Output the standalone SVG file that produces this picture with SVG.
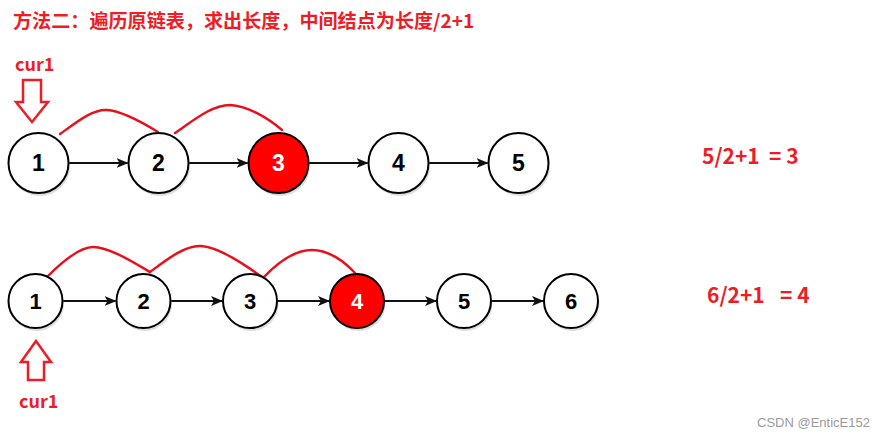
<svg xmlns="http://www.w3.org/2000/svg" width="893" height="436" viewBox="0 0 893 436">
<style>
.bg{fill:#ffffff}
.node{fill:#ffffff;stroke:#000000;stroke-width:2}
.hl{fill:#ff0000;stroke:#000000;stroke-width:2}
.shadow{fill:#bdbdbd;opacity:0.5}
.lbl{font-family:"Liberation Sans",Arial,sans-serif;font-weight:bold;text-anchor:middle;fill:#000000}
.lblw{fill:#ffffff}
.edge{stroke:#111111;stroke-width:2;fill:none}
.arc{stroke:#e8101a;stroke-width:2.4;fill:none;stroke-linejoin:round;stroke-linecap:round}
.ptr{fill:#ffffff;stroke:#ee1c25;stroke-width:2.5;stroke-linejoin:miter}
.red{font-family:"Noto Sans CJK SC","Microsoft YaHei",sans-serif;font-weight:bold;fill:#ee1c25}
.wm{font-family:"Liberation Sans",Arial,sans-serif;font-size:13px;fill:#9a9a9a}
</style>
<defs>
<marker id="ah" markerWidth="12" markerHeight="10" refX="11" refY="5" orient="auto" markerUnits="userSpaceOnUse">
<path d="M0,0 L12,5 L0,10 L3,5 Z" fill="#111111"/>
</marker>
</defs>
<rect class="bg" x="0" y="0" width="893" height="436"/>

<text class="red" x="13" y="28" font-size="19.1">方法二：遍历原链表，求出长度，中间结点为长度/2+1</text>

<g id="connectors">
<line class="edge" x1="68.5" y1="163" x2="127.5" y2="163" marker-end="url(#ah)"/>
<line class="edge" x1="188.5" y1="163" x2="247.5" y2="163" marker-end="url(#ah)"/>
<line class="edge" x1="308.5" y1="163" x2="367.5" y2="163" marker-end="url(#ah)"/>
<line class="edge" x1="428.5" y1="163" x2="487.5" y2="163" marker-end="url(#ah)"/>

<line class="edge" x1="62.5" y1="301" x2="115.5" y2="301" marker-end="url(#ah)"/>
<line class="edge" x1="170.5" y1="301" x2="222" y2="301" marker-end="url(#ah)"/>
<line class="edge" x1="277" y1="301" x2="329" y2="301" marker-end="url(#ah)"/>
<line class="edge" x1="384" y1="301" x2="436" y2="301" marker-end="url(#ah)"/>
<line class="edge" x1="491" y1="301" x2="543" y2="301" marker-end="url(#ah)"/>

<path class="arc" d="M60,134 C78,121 93,109 107,110 C122,111 145,124 158,132"/>
<path class="arc" d="M175,133 C194,120 212,105 230,105 C248,106 268,118 282,130"/>

<path class="arc" d="M48,276 C62,262 79,247 93,247 C109,247 133,262 150,272"/>
<path class="arc" d="M150,272 C166,260 185,245 201,246 C219,247 245,265 262,277"/>
<path class="arc" d="M263,278 C278,262 296,250 312,250 C329,250 345,262 355,273"/>
</g>

<g id="top-nodes">
<g id="t1"><circle class="shadow" cx="40" cy="166" r="30"/><circle class="node" cx="38.5" cy="163" r="30"/><text class="lbl" x="38.5" y="171" font-size="23">1</text></g>
<g id="t2"><circle class="shadow" cx="160" cy="166" r="30"/><circle class="node" cx="158.5" cy="163" r="30"/><text class="lbl" x="158.5" y="171" font-size="23">2</text></g>
<g id="t3"><circle class="shadow" cx="280" cy="166" r="30"/><circle class="hl" cx="278.5" cy="163" r="30"/><text class="lbl lblw" x="278.5" y="171" font-size="23">3</text></g>
<g id="t4"><circle class="shadow" cx="400" cy="166" r="30"/><circle class="node" cx="398.5" cy="163" r="30"/><text class="lbl" x="398.5" y="171" font-size="23">4</text></g>
<g id="t5"><circle class="shadow" cx="520" cy="166" r="30"/><circle class="node" cx="518.5" cy="163" r="30"/><text class="lbl" x="518.5" y="171" font-size="23">5</text></g>
</g>

<g id="bottom-nodes">
<g id="b1"><circle class="shadow" cx="37" cy="304" r="27"/><circle class="node" cx="35.5" cy="301" r="27"/><text class="lbl" x="35.5" y="309" font-size="22">1</text></g>
<g id="b2"><circle class="shadow" cx="145" cy="304" r="27"/><circle class="node" cx="143.5" cy="301" r="27"/><text class="lbl" x="143.5" y="309" font-size="22">2</text></g>
<g id="b3"><circle class="shadow" cx="251.5" cy="304" r="27"/><circle class="node" cx="250" cy="301" r="27"/><text class="lbl" x="250" y="309" font-size="22">3</text></g>
<g id="b4"><circle class="shadow" cx="358.5" cy="304" r="27"/><circle class="hl" cx="357" cy="301" r="27"/><text class="lbl lblw" x="357" y="309" font-size="22">4</text></g>
<g id="b5"><circle class="shadow" cx="465.5" cy="304" r="27"/><circle class="node" cx="464" cy="301" r="27"/><text class="lbl" x="464" y="309" font-size="22">5</text></g>
<g id="b6"><circle class="shadow" cx="572.5" cy="304" r="27"/><circle class="node" cx="571" cy="301" r="27"/><text class="lbl" x="571" y="309" font-size="22">6</text></g>
</g>

<g id="ptr-top">
<text class="red" x="15" y="71" font-size="18">cur1</text>
<polygon class="ptr" points="23,80 41,80 41,102 48,102 32,122 16,102 23,102"/>
</g>

<g id="ptr-bottom">
<polygon class="ptr" points="36,341 51,362 44,362 44,380 28,380 28,362 21,362"/>
<text class="red" x="19" y="408" font-size="18">cur1</text>
</g>

<g id="formulas">
<text class="red" font-size="21" y="164"><tspan x="702">5/2+1</tspan><tspan x="769">= 3</tspan></text>
<text class="red" font-size="21" y="303"><tspan x="707">6/2+1</tspan><tspan x="780">= 4</tspan></text>
</g>

<text class="wm" x="757" y="427">CSDN @EnticE152</text>
</svg>
